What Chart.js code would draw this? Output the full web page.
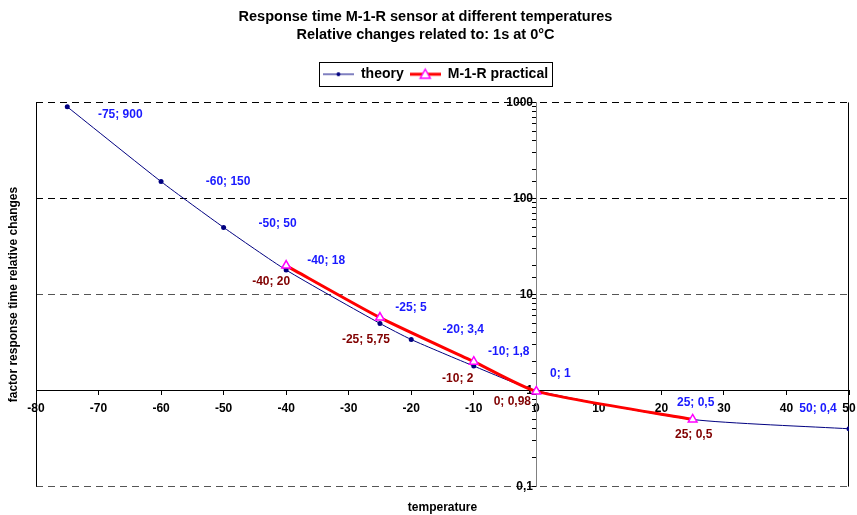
<!DOCTYPE html>
<html>
<head>
<meta charset="utf-8">
<script src="https://cdn.jsdelivr.net/npm/chart.js@4/dist/chart.umd.min.js"></script>
<style>
  html, body { margin: 0; padding: 0; background: #fff; }
  #wrap { width: 857px; height: 515px; }
</style>
</head>
<body>
<div id="wrap"><canvas id="chart" width="857" height="515"></canvas></div>
<script>
// data
var theoryTemps = [-75, -60, -50, -40, -25, -20, -10, 0, 25, 50];
var theoryValues = [900, 150, 50, 18, 5, 3.4, 1.8, 1, 0.5, 0.4];
var practicalTemps = [-40, -25, -10, 0, 25];
var practicalValues = [20, 5.75, 2, 0.98, 0.5];

// where each data label sits relative to its point (dx, dy of label centre)
var theoryLabelOffsets = [[53, 8], [67, 0], [54, -4], [40, -9], [31, -16], [52, -10], [35, -14], [24, -17], [3, -17], [-31, -20]];
var practicalLabelOffsets = [[-15, 16], [-14, 22], [-16, 17], [-24, 10], [1, 15]];

var FONT = 'Arial, "Liberation Sans", sans-serif';

function toPoints(xs, ys) {
    return xs.map(function(x, i) { return {x: x, y: ys[i]}; });
}
function fmt(v) {
    return String(v).replace('.', ',');
}
function isDecade(v) {
    var l = Math.log10(v);
    return Math.abs(l - Math.round(l)) < 1e-9;
}

// small legend symbols: line with the marker in the middle
function legendSymbol(lineColor, lineWidth, drawMarker) {
    var c = document.createElement('canvas');
    c.width = 31; c.height = 14;
    var g = c.getContext('2d');
    g.strokeStyle = lineColor;
    g.lineWidth = lineWidth;
    g.beginPath(); g.moveTo(0, 7); g.lineTo(31, 7); g.stroke();
    drawMarker(g);
    return c;
}
var theorySymbol = legendSymbol('#000080', 1, function(g) {
    g.fillStyle = '#000080';
    g.beginPath(); g.arc(15.5, 7, 2, 0, Math.PI * 2); g.fill();
});
var practicalSymbol = legendSymbol('#ff0000', 3, function(g) {
    g.fillStyle = '#ffffff';
    g.strokeStyle = '#ff00ff';
    g.lineWidth = 1.5;
    g.beginPath(); g.moveTo(15.5, 2); g.lineTo(20.5, 11); g.lineTo(10.5, 11); g.closePath();
    g.fill(); g.stroke();
});

var pointLabels = {
    id: 'pointLabels',
    afterDatasetsDraw: function(chart) {
        var ctx = chart.ctx;
        ctx.save();
        ctx.font = 'bold 12px ' + FONT;
        ctx.textAlign = 'center';
        ctx.textBaseline = 'middle';
        chart.data.datasets.forEach(function(ds, i) {
            var meta = chart.getDatasetMeta(i);
            ctx.fillStyle = ds.labelColor;
            meta.data.forEach(function(pt, j) {
                var p = ds.data[j];
                var off = ds.labelOffsets[j];
                ctx.fillText(p.x + '; ' + fmt(p.y), pt.x + off[0], pt.y + off[1]);
            });
        });
        ctx.restore();
    }
};

var frame = {
    id: 'frame',
    afterLayout: function(chart) {
        // legend sits a little right of the canvas centre
        chart.legend.left += 10;
        chart.legend.right += 10;
    },
    beforeDatasetsDraw: function(chart) {
        var a = chart.chartArea, ctx = chart.ctx;
        ctx.save();
        ctx.strokeStyle = '#000';
        ctx.lineWidth = 1;
        ctx.beginPath();
        ctx.moveTo(Math.round(a.left) + 0.5, a.top); ctx.lineTo(Math.round(a.left) + 0.5, a.bottom);
        ctx.moveTo(Math.round(a.right) - 0.5, a.top); ctx.lineTo(Math.round(a.right) - 0.5, a.bottom);
        ctx.stroke();
        ctx.restore();
    },
    afterDraw: function(chart) {
        // border round the legend
        var boxes = chart.legend.legendHitBoxes;
        if (!boxes || !boxes.length) return;
        var l = Infinity, r = -Infinity, t = Infinity, b = -Infinity;
        boxes.forEach(function(h) {
            l = Math.min(l, h.left); r = Math.max(r, h.left + h.width);
            t = Math.min(t, h.top); b = Math.max(b, h.top + h.height);
        });
        var ctx = chart.ctx;
        ctx.save();
        ctx.strokeStyle = '#000';
        ctx.lineWidth = 1;
        ctx.strokeRect(Math.round(l - 4) + 0.5, Math.round(t - 5) + 0.5, Math.round(r - l + 8), Math.round(b - t + 10));
        ctx.restore();
    }
};

var ctx = document.getElementById('chart').getContext('2d');
var chart = new Chart(ctx, {
    type: 'line',
    data: {
        datasets: [{
            label: 'theory',
            data: toPoints(theoryTemps, theoryValues),
            borderColor: '#000080',
            backgroundColor: '#000080',
            borderWidth: 1,
            pointRadius: 2.5,
            pointBorderWidth: 0,
            tension: 0.2,
            labelColor: '#1a1aff',
            labelOffsets: theoryLabelOffsets,
            legendSymbol: theorySymbol,
            order: 2
        }, {
            label: 'M-1-R practical',
            data: toPoints(practicalTemps, practicalValues),
            borderColor: '#ff0000',
            backgroundColor: '#ffffff',
            borderWidth: 3,
            pointStyle: 'triangle',
            pointRadius: 5,
            pointBorderColor: '#ff00ff',
            pointBackgroundColor: '#ffffff',
            pointBorderWidth: 1.5,
            tension: 0.2,
            labelColor: '#800000',
            labelOffsets: practicalLabelOffsets,
            legendSymbol: practicalSymbol,
            order: 1
        }]
    },
    options: {
        responsive: false,
        animation: false,
        events: [],
        layout: { padding: { left: 2, right: 8, top: 0, bottom: 0 } },
        plugins: {
            title: {
                display: true,
                text: ['Response time M-1-R sensor at different temperatures', 'Relative changes related to: 1s at 0°C'],
                color: '#000',
                font: { family: FONT, size: 14.5, weight: 'bold', lineHeight: 1.25 },
                padding: { top: 8, bottom: 17 }
            },
            subtitle: {
                display: true,
                position: 'bottom',
                fullSize: false,
                text: 'temperature',
                color: '#000',
                font: { family: FONT, size: 12, weight: 'bold' },
                padding: { top: 14, bottom: 0 }
            },
            legend: {
                display: true,
                labels: {
                    color: '#000',
                    font: { family: FONT, size: 14, weight: 'bold' },
                    usePointStyle: true,
                    pointStyleWidth: 31,
                    padding: 6,
                    sort: function(a, b) { return a.datasetIndex - b.datasetIndex; },
                    generateLabels: function(chart) {
                        var items = Chart.defaults.plugins.legend.labels.generateLabels(chart);
                        items.forEach(function(it) {
                            it.pointStyle = chart.data.datasets[it.datasetIndex].legendSymbol;
                        });
                        return items;
                    }
                }
            },
            tooltip: { enabled: false }
        },
        scales: {
            x: {
                type: 'linear',
                min: -80,
                max: 50,
                position: { y: 1 },
                afterFit: function(scale) {
                    scale.paddingLeft = 0;
                    scale.paddingRight = 0;
                },
                ticks: {
                    stepSize: 10,
                    color: '#000',
                    font: { family: FONT, size: 12, weight: 'bold' },
                    padding: 7
                },
                grid: { drawOnChartArea: false, drawTicks: true, tickLength: 4, tickColor: '#000' },
                border: { color: '#000', width: 1 }
            },
            // empty top axis: only keeps the gap between legend and plot
            xgap: {
                type: 'linear',
                position: 'top',
                display: true,
                ticks: { display: false },
                grid: { display: false },
                border: { display: false },
                title: { display: true, text: ' ', font: { size: 1 }, padding: { top: 1, bottom: 1 } }
            },
            y: {
                type: 'logarithmic',
                min: 0.1,
                max: 1000,
                position: { x: 0 },
                afterBuildTicks: function(scale) {
                    scale.ticks = scale.ticks.filter(function(t) { return t.value >= 0.1 && t.value <= 1000; });
                },
                ticks: {
                    autoSkip: false,
                    color: '#000',
                    font: { family: FONT, size: 12, weight: 'bold' },
                    callback: function(v) {
                        return isDecade(v) ? fmt(v) + ' ' : '';
                    }
                },
                grid: {
                    color: function(c) {
                        var v = c.tick && c.tick.value;
                        if (v === undefined || !isDecade(v) || Math.abs(v - 1) < 1e-9) return 'rgba(0,0,0,0)';
                        if (v >= 100) return '#000';
                        return '#555';
                    },
                    lineWidth: 1,
                    tickLength: 4,
                    tickColor: '#000',
                    tickBorderDash: []
                },
                border: { color: '#808080', width: 1, dash: [7, 5] }
            },
            yt: {
                type: 'linear',
                position: 'left',
                display: true,
                ticks: { display: false },
                grid: { display: false },
                border: { display: false },
                title: {
                    display: true,
                    text: 'factor response time relative changes',
                    color: '#000',
                    font: { family: FONT, size: 12, weight: 'bold' },
                    padding: { top: 4, bottom: 7.6 }
                }
            }
        }
    },
    plugins: [pointLabels, frame]
});
</script>
</body>
</html>
